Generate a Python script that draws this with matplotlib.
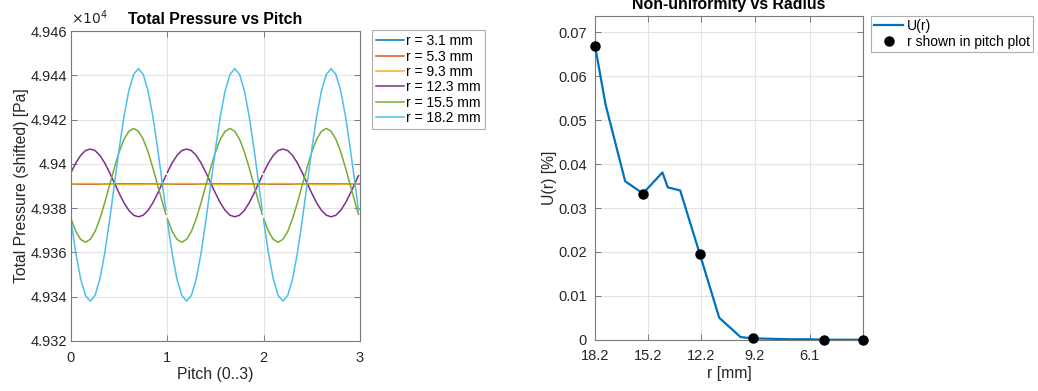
"""
Total pressure over three pitches at selected radii, and the radial
non-uniformity profile U(r) with the plotted radii marked.
"""

import matplotlib
matplotlib.use("Agg")
import matplotlib.pyplot as plt
import numpy as np
from matplotlib.ticker import FuncFormatter

# pitch samples within one pitch period (each period is drawn as its own piece)
PITCH_PERIOD = [0.00, 0.05, 0.10, 0.15, 0.20, 0.25, 0.30, 0.35, 0.40, 0.45,
                0.50, 0.55, 0.60, 0.65, 0.70, 0.75, 0.80, 0.85, 0.90, 0.95, 0.985]
N_PITCH = 3

RADII_LABELS = ["r = 3.1 mm", "r = 5.3 mm", "r = 9.3 mm",
                "r = 12.3 mm", "r = 15.5 mm", "r = 18.2 mm"]

# total pressure over one pitch [Pa]
P_R31 = [49390.9] * 21
P_R53 = [49391.0] * 21
P_R93 = [49390.9, 49391.0, 49391.1, 49391.1, 49391.1, 49391.1, 49391.0, 49390.9,
         49390.9, 49390.8, 49390.7, 49390.7, 49390.7, 49390.7, 49390.7, 49390.7,
         49390.8, 49390.8, 49390.9, 49390.9, 49390.9]
P_R123 = [49396.1, 49400.4, 49403.8, 49406.0, 49406.7, 49406.0, 49403.8, 49400.4,
          49396.1, 49391.4, 49386.7, 49382.4, 49379.0, 49376.8, 49376.1, 49376.8,
          49379.0, 49382.4, 49386.7, 49391.4, 49394.7]
P_R155 = [49375.2, 49369.5, 49365.9, 49364.6, 49365.9, 49369.5, 49375.2, 49382.4,
          49390.3, 49398.2, 49405.4, 49411.1, 49414.7, 49416.0, 49414.7, 49411.1,
          49405.4, 49398.2, 49390.3, 49382.4, 49377.2]
P_R182 = [49374.3, 49359.6, 49348.0, 49340.6, 49338.0, 49340.6, 49348.0, 49359.6,
          49374.3, 49390.5, 49406.7, 49421.4, 49433.0, 49440.4, 49443.0, 49440.4,
          49433.0, 49421.4, 49406.7, 49390.5, 49379.1]
PRESSURE = [P_R31, P_R53, P_R93, P_R123, P_R155, P_R182]

# radial non-uniformity
R_MM = [18.2, 17.6, 16.5, 15.5, 14.4, 14.1, 13.4, 12.3, 11.2, 10.0, 9.3,
        8.2, 7.2, 6.1, 5.3, 4.2, 3.1]
U_PCT = [0.0670, 0.0535, 0.0361, 0.0333, 0.0381, 0.0347, 0.0340, 0.0196, 0.0050,
         0.0006, 0.0003, 0.0002, 0.0001, 0.0001, 0.0000, 0.0000, 0.0000]
R_MARKED = [18.2, 15.5, 12.3, 9.3, 5.3, 3.1]
U_MARKED = [0.0670, 0.0333, 0.0196, 0.0003, 0.0000, 0.0000]
R_TICKS = [18.2, 15.2, 12.2, 9.2, 6.1]

COLORS = ["#0072BD", "#D95319", "#EDB120", "#7E2F8E", "#77AC30", "#4DBEEE"]
TXT = "#262626"
BOX = "#7a7a7a"
TICK_FS = 10.5
LABEL_FS = 11.3
TITLE_FS = 11.4
LEG_FS = 10


def tile_pitch(values):
    xs, ys = [], []
    for k in range(N_PITCH):
        xs += [k + p for p in PITCH_PERIOD] + [np.nan]
        ys += list(values) + [np.nan]
    return np.array(xs), np.array(ys)


def style_axes(ax):
    ax.grid(True, color="#e3e3e3", linewidth=0.8)
    ax.set_axisbelow(True)
    for s in ax.spines.values():
        s.set_color(BOX)
        s.set_linewidth(0.8)
    ax.tick_params(direction="in", length=4, width=0.7, color=BOX,
                   labelcolor=TXT, labelsize=TICK_FS, top=True, right=True, pad=3)
    ax.tick_params(axis="x", pad=7)


def style_legend(leg):
    leg.get_frame().set_edgecolor("#9a9a9a")
    leg.get_frame().set_linewidth(0.8)


plt.rcParams.update({
    "font.family": ["Liberation Sans", "DejaVu Sans"],
})

fig = plt.figure(figsize=(10.38, 3.91), dpi=100)
fig.patch.set_facecolor("white")

# pitch plot
ax1 = fig.add_axes([0.0684, 0.1279, 0.2784, 0.7928])
for vals, col, lab in zip(PRESSURE, COLORS, RADII_LABELS):
    x, y = tile_pitch(vals)
    ax1.plot(x, y, color=col, linewidth=1.1, label=lab)
ax1.set_xlim(0, 3)
ax1.set_ylim(49320, 49460)
ax1.set_xticks([0, 1, 2, 3])
ax1.set_yticks(np.arange(49320, 49461, 20))
ax1.yaxis.set_major_formatter(FuncFormatter(lambda v, _: f"{v / 1e4:g}"))
style_axes(ax1)
ax1.set_title("Total Pressure vs Pitch", fontsize=TITLE_FS, fontweight="bold",
              color="black", pad=5)
ax1.text(0.0, 1.012, r"$\times10^{4}$", transform=ax1.transAxes,
         fontsize=10, color=TXT, ha="left", va="bottom")
ax1.set_xlabel("Pitch (0..3)", fontsize=LABEL_FS, color=TXT, labelpad=2)
ax1.set_ylabel("Total Pressure (shifted) [Pa]", fontsize=LABEL_FS, color=TXT,
               labelpad=1)
leg1 = ax1.legend(loc="upper left", bbox_to_anchor=(0.3581, 0.9233),
                  bbox_transform=fig.transFigure, fontsize=LEG_FS, frameon=True,
                  fancybox=False, borderpad=0.3, labelspacing=0.1,
                  handlelength=2.0, handletextpad=0.2, borderaxespad=0)
style_legend(leg1)

# non-uniformity plot
ax2 = fig.add_axes([0.5732, 0.1312, 0.2582, 0.8286])
ax2.plot(R_MM, U_PCT, color="#0072BD", linewidth=1.6, label="U(r)", zorder=3)
ax2.plot(R_MARKED, U_MARKED, linestyle="none", marker="o", markersize=6.5,
         color="black", label="r shown in pitch plot", zorder=4, clip_on=False)
ax2.set_xlim(18.2, 3.1)
ax2.set_ylim(0, 0.0738)
ax2.set_xticks(R_TICKS)
ax2.set_xticklabels([f"{r:.1f}" for r in R_TICKS])
ax2.set_yticks(np.arange(0, 0.071, 0.01))
ax2.yaxis.set_major_formatter(FuncFormatter(lambda v, _: f"{round(v, 4):g}"))
style_axes(ax2)
ax2.tick_params(axis="y", pad=6)
ax2.set_title("Non-uniformity vs Radius", fontsize=TITLE_FS, fontweight="bold",
              color="black", pad=5)
ax2.set_xlabel("r [mm]", fontsize=LABEL_FS, color=TXT, labelpad=2)
ax2.set_ylabel("U(r) [%]", fontsize=LABEL_FS, color=TXT, labelpad=1)
leg2 = ax2.legend(loc="upper left", bbox_to_anchor=(0.8388, 0.9598),
                  bbox_transform=fig.transFigure, fontsize=LEG_FS, frameon=True,
                  fancybox=False, borderpad=0.25, labelspacing=0.1,
                  handlelength=2.1, handletextpad=0.25, borderaxespad=0)
style_legend(leg2)

fig.savefig("out.png", dpi=100, facecolor="white")
